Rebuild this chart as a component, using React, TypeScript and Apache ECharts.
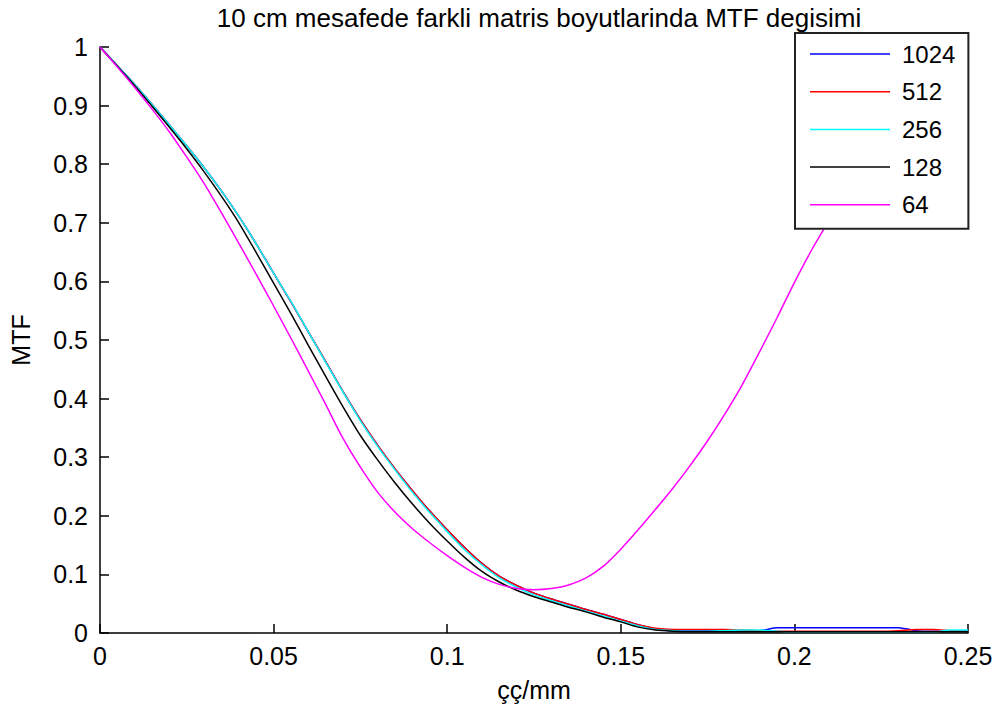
import React, { useEffect, useRef } from "react";
import * as echarts from "echarts";

const titleText = "10 cm mesafede farkli matris boyutlarinda MTF degisimi";
const xName = "çç/mm";
const yName = "MTF";
const seriesNames = ["1024", "512", "256", "128", "64"];
const seriesColors = ["#0000ff", "#ff0000", "#00ffff", "#000000", "#ff00ff"];

const freq = [
  0, 0.005, 0.01, 0.015, 0.02, 0.025, 0.03, 0.035, 0.04, 0.045,
  0.05, 0.055, 0.06, 0.065, 0.07, 0.075, 0.08, 0.085, 0.09, 0.095,
  0.1, 0.105, 0.11, 0.115, 0.12, 0.125, 0.13, 0.135, 0.14, 0.145,
  0.15, 0.155, 0.16, 0.165, 0.17, 0.175, 0.18, 0.185, 0.19, 0.195,
  0.2, 0.205, 0.21, 0.215, 0.22, 0.225, 0.23, 0.235, 0.24, 0.245, 0.25,
];

const mtf1024 = [
  1.0, 0.968, 0.936, 0.902, 0.867, 0.831, 0.794, 0.754, 0.711, 0.664,
  0.614, 0.565, 0.514, 0.463, 0.412, 0.364, 0.32, 0.28, 0.243, 0.208,
  0.176, 0.146, 0.119, 0.097, 0.081, 0.068, 0.058, 0.049, 0.04, 0.032,
  0.023, 0.014, 0.007, 0.004, 0.004, 0.004, 0.004, 0.004, 0.004, 0.009,
  0.009, 0.009, 0.009, 0.009, 0.009, 0.009, 0.009, 0.004, 0.003, 0.003, 0.003,
];

const mtf512 = [
  1.0, 0.968, 0.936, 0.902, 0.867, 0.831, 0.794, 0.754, 0.711, 0.664,
  0.614, 0.565, 0.514, 0.463, 0.412, 0.364, 0.32, 0.28, 0.243, 0.208,
  0.176, 0.146, 0.119, 0.097, 0.081, 0.068, 0.058, 0.049, 0.04, 0.032,
  0.023, 0.014, 0.008, 0.006, 0.006, 0.006, 0.006, 0.005, 0.004, 0.003,
  0.003, 0.003, 0.003, 0.003, 0.003, 0.003, 0.004, 0.006, 0.006, 0.004, 0.003,
];

const mtf256 = [
  1.0, 0.968, 0.936, 0.902, 0.867, 0.831, 0.794, 0.754, 0.711, 0.664,
  0.614, 0.566, 0.514, 0.462, 0.411, 0.362, 0.318, 0.278, 0.24, 0.205,
  0.173, 0.142, 0.116, 0.094, 0.078, 0.065, 0.055, 0.046, 0.037, 0.029,
  0.02, 0.012, 0.006, 0.004, 0.003, 0.003, 0.004, 0.005, 0.005, 0.003,
  0.002, 0.002, 0.002, 0.002, 0.002, 0.002, 0.002, 0.002, 0.002, 0.005, 0.005,
];

const mtf128 = [
  1.0, 0.967, 0.934, 0.899, 0.863, 0.826, 0.787, 0.745, 0.7, 0.649,
  0.597, 0.545, 0.491, 0.438, 0.386, 0.337, 0.295, 0.256, 0.22, 0.187,
  0.157, 0.129, 0.105, 0.087, 0.073, 0.062, 0.053, 0.044, 0.036, 0.027,
  0.019, 0.01, 0.005, 0.003, 0.002, 0.002, 0.002, 0.002, 0.002, 0.002,
  0.002, 0.002, 0.002, 0.002, 0.002, 0.002, 0.002, 0.002, 0.002, 0.002, 0.002,
];

const mtf64 = [
  1.0, 0.966, 0.931, 0.894, 0.855, 0.812, 0.767, 0.717, 0.665, 0.612,
  0.558, 0.503, 0.447, 0.39, 0.332, 0.283, 0.24, 0.206, 0.178, 0.154,
  0.132, 0.112, 0.095, 0.083, 0.076, 0.074, 0.076, 0.082, 0.094, 0.114,
  0.143, 0.176, 0.211, 0.247, 0.286, 0.328, 0.374, 0.424, 0.48, 0.538,
  0.598, 0.654, 0.704, 0.752, 0.798, 0.842, 0.882, 0.918, 0.95, 0.977, 1.0,
];

const seriesValues = [mtf1024, mtf512, mtf256, mtf128, mtf64];

const FONT = "'Liberation Sans', Arial, sans-serif";

export default function App() {
  const ref = useRef<HTMLDivElement>(null);

  useEffect(() => {
    if (!ref.current) return;
    const chart = echarts.init(ref.current, undefined, { renderer: "svg" });
    const axisCommon = {
      axisLine: { show: true, lineStyle: { color: "#000", width: 1.5 } },
      axisTick: { show: true, inside: true, length: 9, lineStyle: { color: "#000", width: 1.5 } },
      splitLine: { show: false },
      axisLabel: { color: "#000", fontSize: 25, fontFamily: FONT },
      nameTextStyle: { color: "#000", fontSize: 25, fontFamily: FONT },
    };
    chart.setOption({
      animation: false,
      backgroundColor: "#fff",
      title: {
        text: titleText,
        left: 534,
        top: 0,
        textAlign: "center",
        textStyle: { color: "#000", fontSize: 26, fontWeight: "normal", fontFamily: FONT },
      },
      grid: { left: 100, right: 35, top: 47, bottom: 77, containLabel: false },
      xAxis: {
        type: "value",
        min: 0,
        max: 0.25,
        interval: 0.05,
        name: xName,
        nameLocation: "middle",
        nameGap: 44,
        ...axisCommon,
        axisLabel: { ...axisCommon.axisLabel, margin: 10 },
      },
      yAxis: {
        type: "value",
        min: 0,
        max: 1,
        interval: 0.1,
        name: yName,
        nameLocation: "middle",
        nameGap: 67,
        nameRotate: 90,
        ...axisCommon,
        axisLabel: { ...axisCommon.axisLabel, margin: 12 },
      },
      legend: {
        orient: "vertical",
        left: 795,
        top: 33,
        z: 20,
        icon: "rect",
        itemWidth: 80,
        itemHeight: 1.5,
        itemGap: 13.7,
        padding: [9, 13, 12, 15],
        backgroundColor: "#fff",
        borderColor: "#222",
        borderWidth: 2,
        borderRadius: 0,
        textStyle: { color: "#000", fontSize: 24, fontFamily: FONT, lineHeight: 24, padding: [0, 0, 0, 7] },
        data: seriesNames,
      },
      series: seriesNames.map((name, i) => ({
        name,
        type: "line",
        data: freq.map((f, j) => [f, seriesValues[i][j]]),
        symbol: "none",
        smooth: 0.25,
        lineStyle: { color: seriesColors[i], width: 1.5 },
        itemStyle: { color: seriesColors[i] },
        z: 2,
      })),
    });
    return () => chart.dispose();
  }, []);

  return (
    <div
      ref={ref}
      style={{ position: "fixed", left: 0, top: 0, width: 1003, height: 710, background: "#fff" }}
    />
  );
}
